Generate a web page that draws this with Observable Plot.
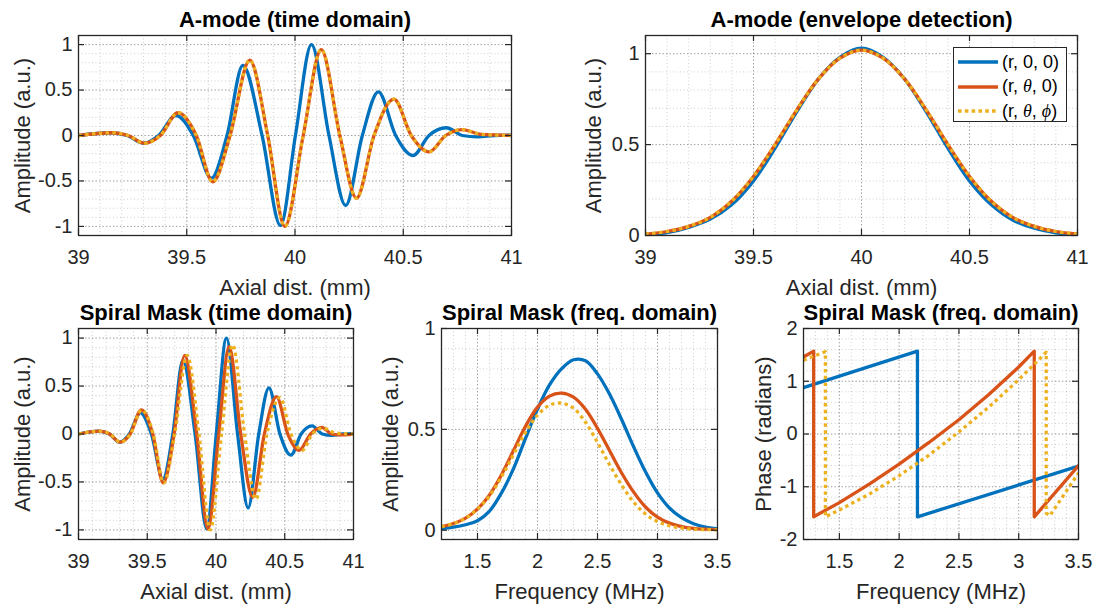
<!DOCTYPE html>
<html><head><meta charset="utf-8">
<script src="https://cdn.jsdelivr.net/npm/d3@7"></script>
<script src="https://cdn.jsdelivr.net/npm/@observablehq/plot@0.6"></script>
<style>
body{margin:0;background:#fff;}
#chart{position:relative;width:1096px;height:605px;background:#fff;overflow:hidden;font-family:"Liberation Sans",Arial,sans-serif;}
#chart svg{position:absolute;overflow:visible;}
#legend{position:absolute;left:953px;top:47px;width:114px;height:75px;border:1px solid #262626;background:#fff;box-sizing:border-box;}
#legend .row{position:absolute;left:4px;height:24px;display:flex;align-items:center;font-size:18px;color:#000;white-space:nowrap;}
#legend .row svg{position:static;margin-right:4px;}
#legend i{font-family:"Liberation Serif","DejaVu Serif",serif;font-style:italic;}
</style></head>
<body><div id="chart"><div id="legend"></div></div>
<script>
// ---------- series colours / names ----------
const seriesNames = ["(r, 0, 0)", "(r, θ, 0)", "(r, θ, ϕ)"];
const colors = ["#0072BD", "#D95319", "#EDB120"];

// ---------- tick values ----------
const axialTicks = [39, 39.5, 40, 40.5, 41];
const ampTicks = [-1, -0.5, 0, 0.5, 1];
const envTicks = [0, 0.5, 1];
const freqTicks = [1.5, 2, 2.5, 3, 3.5];
const phaseTicks = [-2, -1, 0, 1, 2];

// ---------- A-mode (time domain) ----------
const tdBlueX = [39.0, 39.146, 39.225, 39.30, 39.37, 39.45, 39.53, 39.614, 39.686, 39.759, 39.848, 39.933, 40.002, 40.076, 40.157, 40.234, 40.311, 40.385, 40.465, 40.545, 40.619, 40.699, 40.773, 40.843, 40.92, 41.0];
const tdBlueY = [0.0, 0.03, 0, -0.085, 0, 0.22, 0, -0.47, 0, 0.77, 0, -0.99, 0, 1.0, 0, -0.77, 0, 0.48, 0, -0.22, 0, 0.085, 0, -0.015, 0, 0.005];
const tdOrangeX = [39.0, 39.154, 39.23, 39.304, 39.378, 39.46, 39.544, 39.62, 39.70, 39.791, 39.874, 39.953, 40.038, 40.121, 40.207, 40.284, 40.365, 40.457, 40.537, 40.619, 40.696, 40.773, 40.86, 41.0];
const tdOrangeY = [0.0, 0.03, 0, -0.085, 0, 0.25, 0, -0.51, 0, 0.83, 0, -1.0, 0, 0.945, 0, -0.69, 0, 0.40, 0, -0.18, 0, 0.065, 0.012, 0];
const tdYellowX = tdOrangeX;
const tdYellowY = tdOrangeY;

// ---------- A-mode (envelope detection) ----------
const envX = [39.0, 39.1, 39.2, 39.3, 39.4, 39.5, 39.6, 39.7, 39.8, 39.9, 40.0, 40.1, 40.2, 40.3, 40.4, 40.5, 40.6, 40.7, 40.8, 40.9, 41.0];
const envBlue = [0.005, 0.016, 0.045, 0.09, 0.17, 0.30, 0.48, 0.68, 0.86, 0.98, 1.03, 0.98, 0.86, 0.68, 0.48, 0.30, 0.17, 0.085, 0.04, 0.015, 0.004];
const envOrange = [0.008, 0.022, 0.05, 0.1, 0.19, 0.325, 0.5, 0.69, 0.86, 0.975, 1.02, 0.975, 0.86, 0.69, 0.5, 0.325, 0.19, 0.1, 0.05, 0.022, 0.008];
const envYellow = envOrange;

// ---------- Spiral Mask (time domain) ----------
const spBlueX = tdBlueX, spBlueY = tdBlueY;
const spOrangeX = [39.0, 39.15, 39.226, 39.302, 39.376, 39.457, 39.54, 39.616, 39.695, 39.772, 39.86, 39.942, 40.02, 40.095, 40.18, 40.267, 40.352, 40.44, 40.522, 40.605, 40.688, 40.77, 40.84, 40.9, 41.0];
const spOrangeY = [0.0, 0.03, 0, -0.085, 0, 0.25, 0, -0.51, 0, 0.82, 0, -0.99, 0, 0.91, 0, -0.66, 0, 0.39, 0, -0.17, 0, 0.07, 0, -0.01, 0];
const spYellowX = [39.0, 39.154, 39.23, 39.304, 39.378, 39.46, 39.544, 39.62, 39.70, 39.79, 39.876, 39.958, 40.04, 40.12, 40.208, 40.29, 40.37, 40.465, 40.545, 40.628, 40.70, 40.78, 40.87, 41.0];
const spYellowY = [0.0, 0.03, 0, -0.085, 0, 0.25, 0, -0.51, 0, 0.82, 0, -1.0, 0, 0.93, 0, -0.68, 0, 0.38, 0, -0.17, 0, 0.06, 0.01, 0];

// ---------- Spiral Mask (freq. domain) amplitude ----------
const freqX = [1.2, 1.3, 1.4, 1.5, 1.6, 1.7, 1.8, 1.9, 2.0, 2.1, 2.2, 2.3, 2.4, 2.5, 2.6, 2.7, 2.8, 2.9, 3.0, 3.1, 3.2, 3.3, 3.4, 3.5];
const fBlue = [0.008, 0.015, 0.027, 0.047, 0.095, 0.185, 0.305, 0.455, 0.6, 0.72, 0.8, 0.845, 0.84, 0.775, 0.675, 0.55, 0.415, 0.29, 0.185, 0.11, 0.062, 0.032, 0.016, 0.008];
const fOrange = [0.018, 0.033, 0.06, 0.105, 0.175, 0.275, 0.395, 0.515, 0.61, 0.665, 0.68, 0.66, 0.6, 0.505, 0.395, 0.285, 0.19, 0.115, 0.065, 0.035, 0.018, 0.009, 0.005, 0.003];
const fYellow = [0.018, 0.033, 0.06, 0.105, 0.17, 0.265, 0.375, 0.485, 0.57, 0.62, 0.63, 0.605, 0.535, 0.435, 0.325, 0.225, 0.14, 0.08, 0.043, 0.022, 0.011, 0.005, 0.003, 0.002];

// ---------- Spiral Mask (freq. domain) phase ----------
const phBlueX = [1.2, 2.153, 2.153, 3.5];
const phBlueY = [0.88, 1.57, -1.57, -0.61];
const phOrangeX = [1.2, 1.285, 1.285, 1.5, 1.75, 2.0, 2.25, 2.5, 2.75, 3.0, 3.13, 3.13, 3.5];
const phOrangeY = [1.46, 1.57, -1.57, -1.3, -0.95, -0.57, -0.16, 0.27, 0.75, 1.27, 1.57, -1.57, -0.6];
const phYellowX = [1.2, 1.383, 1.383, 1.5, 1.75, 2.0, 2.25, 2.5, 2.75, 3.0, 3.23, 3.23, 3.26, 3.5];
const phYellowY = [1.4, 1.56, -1.57, -1.44, -1.14, -0.79, -0.4, 0.04, 0.51, 1.03, 1.55, -1.5, -1.55, -0.74];

// ---------- helpers ----------
const pts = (xs, ys) => xs.map((x, i) => ({x, y: ys[i]}));
const minorGrid = (a, b, s) => d3.range(Math.round(a / s), Math.round(b / s) + 1).map(k => +(k * s).toFixed(4));
const fmt = d => String(d);
const M = {l: 90, r: 12, t: 40, b: 70};
const chart = document.getElementById("chart");

function panel(cfg) {
  const {left, top, w, h, xDomain, yDomain, xTicks, yTicks, xMinor, yMinor, lines, curve, title, xLabel, yLabel, yLabOff} = cfg;
  const ink = "#262626";
  const marks = [
    Plot.ruleX(xMinor, {stroke: ink, strokeOpacity: 0.22, strokeWidth: 1, strokeDasharray: "1,2.5"}),
    Plot.ruleY(yMinor, {stroke: ink, strokeOpacity: 0.22, strokeWidth: 1, strokeDasharray: "1,2.5"}),
    Plot.ruleX(xTicks, {stroke: ink, strokeOpacity: 0.3, strokeWidth: 1, strokeDasharray: "1.5,2"}),
    Plot.ruleY(yTicks, {stroke: ink, strokeOpacity: 0.3, strokeWidth: 1, strokeDasharray: "1.5,2"})
  ];
  lines.forEach((ln, k) => {
    marks.push(Plot.line(ln, {x: "x", y: "y", stroke: colors[k], strokeWidth: 3.3, curve, clip: true,
      strokeDasharray: k === 2 ? "3.4,3.4" : null, strokeLinecap: k === 2 ? "butt" : "round", strokeLinejoin: "round"}));
  });
  marks.push(
    Plot.frame({stroke: ink, strokeWidth: 1.3}),
    Plot.tickX(xTicks, {x: d => d, insetTop: h - 6, stroke: ink, strokeWidth: 1.2}),
    Plot.tickX(xTicks, {x: d => d, insetBottom: h - 6, stroke: ink, strokeWidth: 1.2}),
    Plot.tickY(yTicks, {y: d => d, insetRight: w - 6, stroke: ink, strokeWidth: 1.2}),
    Plot.tickY(yTicks, {y: d => d, insetLeft: w - 6, stroke: ink, strokeWidth: 1.2}),
    Plot.axisX(xTicks, {tickSize: 0, tickPadding: 14, tickFormat: fmt, label: null, fill: ink}),
    Plot.axisY(yTicks, {tickSize: 0, tickPadding: 6, tickFormat: fmt, label: null, fill: ink}),
    Plot.text([title], {frameAnchor: "top", dy: -9, lineAnchor: "bottom", fontWeight: "bold", fontSize: 22, fill: "#000"}),
    Plot.text([xLabel], {frameAnchor: "bottom", dy: 59, lineAnchor: "bottom", fontSize: 22, fill: ink}),
    Plot.text([yLabel], {frameAnchor: "left", dx: -yLabOff, rotate: -90, textAnchor: "middle", lineAnchor: "bottom", fontSize: 22, fill: ink})
  );
  const svg = Plot.plot({
    width: w + M.l + M.r, height: h + M.t + M.b,
    marginLeft: M.l, marginRight: M.r, marginTop: M.t, marginBottom: M.b,
    x: {domain: xDomain}, y: {domain: yDomain},
    style: {fontFamily: "'Liberation Sans', Arial, sans-serif", fontSize: "20px", color: "#262626", background: "transparent", overflow: "visible"},
    marks
  });
  svg.style.left = (left - M.l) + "px";
  svg.style.top = (top - M.t) + "px";
  chart.insertBefore(svg, document.getElementById("legend"));
}

panel({left: 78, top: 35, w: 433, h: 200, xDomain: [39, 41], yDomain: [-1.1, 1.1],
  xTicks: axialTicks, yTicks: ampTicks, xMinor: minorGrid(39, 41, 0.1), yMinor: minorGrid(-1, 1, 0.1),
  lines: [pts(tdBlueX, tdBlueY), pts(tdOrangeX, tdOrangeY), pts(tdYellowX, tdYellowY)], curve: "monotone-x",
  title: "A-mode (time domain)", xLabel: "Axial dist. (mm)", yLabel: "Amplitude (a.u.)", yLabOff: 49});

panel({left: 645, top: 35, w: 432, h: 200, xDomain: [39, 41], yDomain: [0, 1.1],
  xTicks: axialTicks, yTicks: envTicks, xMinor: minorGrid(39, 41, 0.1), yMinor: minorGrid(0, 1.1, 0.1),
  lines: [pts(envX, envBlue), pts(envX, envOrange), pts(envX, envYellow)], curve: "catmull-rom",
  title: "A-mode (envelope detection)", xLabel: "Axial dist. (mm)", yLabel: "Amplitude (a.u.)", yLabOff: 45});

panel({left: 78, top: 328, w: 275, h: 211, xDomain: [39, 41], yDomain: [-1.1, 1.1],
  xTicks: axialTicks, yTicks: ampTicks, xMinor: minorGrid(39, 41, 0.1), yMinor: minorGrid(-1, 1, 0.1),
  lines: [pts(spBlueX, spBlueY), pts(spOrangeX, spOrangeY), pts(spYellowX, spYellowY)], curve: "monotone-x",
  title: "Spiral Mask (time domain)", xLabel: "Axial dist. (mm)", yLabel: "Amplitude (a.u.)", yLabOff: 49});

panel({left: 441, top: 328, w: 276, h: 211, xDomain: [1.2, 3.5], yDomain: [-0.046, 1],
  xTicks: freqTicks, yTicks: envTicks, xMinor: minorGrid(1.2, 3.5, 0.1), yMinor: minorGrid(0, 1, 0.1),
  lines: [pts(freqX, fBlue), pts(freqX, fOrange), pts(freqX, fYellow)], curve: "catmull-rom",
  title: "Spiral Mask (freq. domain)", xLabel: "Frequency (MHz)", yLabel: "Amplitude (a.u.)", yLabOff: 44});

panel({left: 803, top: 328, w: 275, h: 211, xDomain: [1.2, 3.5], yDomain: [-2, 2],
  xTicks: freqTicks, yTicks: phaseTicks, xMinor: minorGrid(1.2, 3.5, 0.1), yMinor: minorGrid(-2, 2, 0.2),
  lines: [pts(phBlueX, phBlueY), pts(phOrangeX, phOrangeY), pts(phYellowX, phYellowY)], curve: "linear",
  title: "Spiral Mask (freq. domain)", xLabel: "Frequency (MHz)", yLabel: "Phase (radians)", yLabOff: 33});

// ---------- legend ----------
const legend = document.getElementById("legend");
const legendLabels = ["(r, 0, 0)", "(r, <i>θ</i>, 0)", "(r, <i>θ</i>, <i>ϕ</i>)"];
legendLabels.forEach((lab, k) => {
  const row = document.createElement("div");
  row.className = "row";
  row.style.top = (2 + k * 24.5) + "px";
  const dash = k === 2 ? 'stroke-dasharray="3.6,3.2"' : "";
  row.innerHTML = `<svg width="40" height="8"><line x1="0" x2="40" y1="4" y2="4" stroke="${colors[k]}" stroke-width="3.3" ${dash}/></svg><span>${lab}</span>`;
  legend.appendChild(row);
});
</script></body></html>
